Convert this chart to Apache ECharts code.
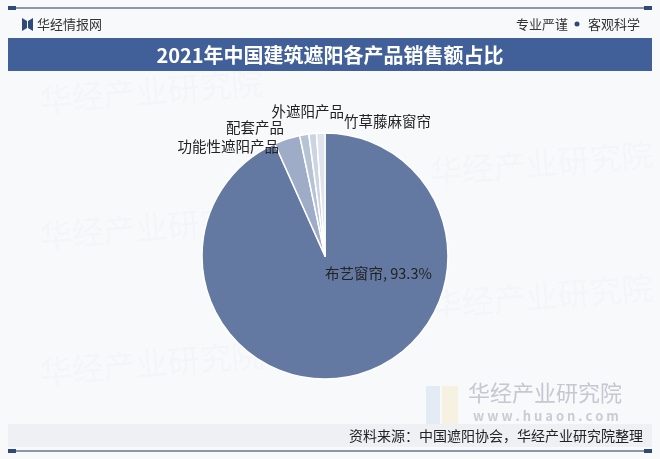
<!DOCTYPE html>
<html>
<head>
<meta charset="utf-8">
<script src="https://cdn.jsdelivr.net/npm/echarts@6/dist/echarts.min.js"></script>
<style>
html,body{margin:0;padding:0;background:#f8f9fb;}
#chart{width:660px;height:459px;}
</style>
</head>
<body>
<div id="chart"></div>
<script>
// ---- data ----
const categories = ['布艺窗帘', '功能性遮阳产品', '配套产品', '外遮阳产品', '竹草藤麻窗帘'];
const shares = [93.3, 3.4, 1.2, 1.0, 1.1];
const title = '2021年中国建筑遮阳各产品销售额占比';
const sourceText = '资料来源：中国遮阳协会，华经产业研究院整理';

// ---- style ----
const sliceColors = ['#6479a1', '#9eacc8', '#b8c2d5', '#ccd4e2', '#dee3ec'];
const labelPlace = [
  { x: 325, y: 273, align: 'left' },
  { x: 279, y: 146, align: 'right' },
  { x: 284, y: 127, align: 'right' },
  { x: 344, y: 111, align: 'right' },
  { x: 344, y: 121, align: 'left' }
];
const FONT = '"Noto Sans CJK SC", "Noto Sans", sans-serif';

const chart = echarts.init(document.getElementById('chart'), null, { renderer: 'canvas' });

const watermarks = [];
[[40, 100], [40, 236], [40, 372], [430, 172], [430, 305]].forEach(function (p) {
  watermarks.push({
    type: 'text', x: p[0], y: p[1], rotation: 0.08, z: 0,
    style: { text: '华经产业研究院', font: '32px ' + FONT, fill: 'rgba(150,160,180,0.045)', textVerticalAlign: 'middle' }
  });
});

const option = {
  backgroundColor: '#f8f9fb',
  animation: false,
  graphic: watermarks.concat([
    // top line
    { type: 'rect', shape: { x: 8, y: 7, width: 644, height: 2 }, style: { fill: '#8d97a8' } },
    { type: 'rect', shape: { x: 8, y: 6, width: 8, height: 4 }, style: { fill: '#2d4a78' } },
    { type: 'rect', shape: { x: 644, y: 6, width: 8, height: 4 }, style: { fill: '#2d4a78' } },
    // logo
    { type: 'polygon', shape: { points: [[22, 18], [27, 21], [27, 28], [22, 31]] }, style: { fill: '#2d4a78' } },
    { type: 'polygon', shape: { points: [[33, 18], [28, 21], [28, 28], [33, 31]] }, style: { fill: '#2d4a78' } },
    { type: 'text', x: 37, y: 24, style: { text: '华经情报网', font: '13px ' + FONT, fill: '#333', textVerticalAlign: 'middle' } },
    { type: 'text', x: 568, y: 24, style: { text: '专业严谨', font: '13px ' + FONT, fill: '#333', textAlign: 'right', textVerticalAlign: 'middle' } },
    { type: 'circle', shape: { cx: 577, cy: 24, r: 2.5 }, style: { fill: '#2d4a78' } },
    { type: 'text', x: 640, y: 24, style: { text: '客观科学', font: '13px ' + FONT, fill: '#333', textAlign: 'right', textVerticalAlign: 'middle' } },
    // title bar
    { type: 'rect', shape: { x: 8, y: 38, width: 644, height: 33 }, style: { fill: '#41609a' } },
    { type: 'text', x: 330, y: 55, style: { text: title, font: 'bold 20px ' + FONT, fill: '#ffffff', textAlign: 'center', textVerticalAlign: 'middle' } },
    // bottom-right watermark logo
    { type: 'rect', shape: { x: 426, y: 386, width: 14, height: 38 }, style: { fill: 'rgba(120,160,220,0.16)' } },
    { type: 'rect', shape: { x: 442, y: 386, width: 16, height: 38 }, style: { fill: 'rgba(240,210,120,0.2)' } },
    { type: 'text', x: 545, y: 393, style: { text: '华经产业研究院', font: '22px ' + FONT, fill: '#c3c8d1', textAlign: 'center', textVerticalAlign: 'middle' } },
    { type: 'text', x: 546, y: 416, style: { text: 'w w w . h u a o n . c o m', font: 'bold 13px ' + FONT, fill: '#c8cdd5', textAlign: 'center', textVerticalAlign: 'middle' } },
    // footer band
    { type: 'rect', shape: { x: 8, y: 424, width: 644, height: 23 }, style: { fill: '#eef0f4' } },
    { type: 'text', x: 643, y: 436, style: { text: sourceText, font: '14px ' + FONT, fill: '#222', textAlign: 'right', textVerticalAlign: 'middle' } },
    // bottom line
    { type: 'rect', shape: { x: 8, y: 450, width: 644, height: 2 }, style: { fill: '#8d97a8' } },
    { type: 'rect', shape: { x: 8, y: 449, width: 8, height: 4 }, style: { fill: '#2d4a78' } },
    { type: 'rect', shape: { x: 644, y: 449, width: 8, height: 4 }, style: { fill: '#2d4a78' } }
  ]),
  series: [{
    type: 'pie',
    center: [325, 256],
    radius: 123,
    startAngle: 90,
    clockwise: true,
    avoidLabelOverlap: false,
    itemStyle: { borderColor: '#ffffff', borderWidth: 1.5 },
    label: {
      show: true,
      position: 'outside',
      fontFamily: FONT,
      fontSize: 14.5,
      color: '#222',
      formatter: function (p) {
        return p.dataIndex === 0 ? p.name + ', ' + p.value + '%' : p.name;
      }
    },
    labelLine: { show: false },
    labelLayout: function (params) {
      const lp = labelPlace[params.dataIndex];
      return { x: lp.x, y: lp.y, align: lp.align, verticalAlign: 'middle', hideOverlap: false, moveOverlap: null };
    },
    emphasis: { disabled: true },
    data: categories.map(function (c, i) {
      return { name: c, value: shares[i], itemStyle: { color: sliceColors[i] } };
    })
  }]
};
chart.setOption(option);
</script>
</body>
</html>
